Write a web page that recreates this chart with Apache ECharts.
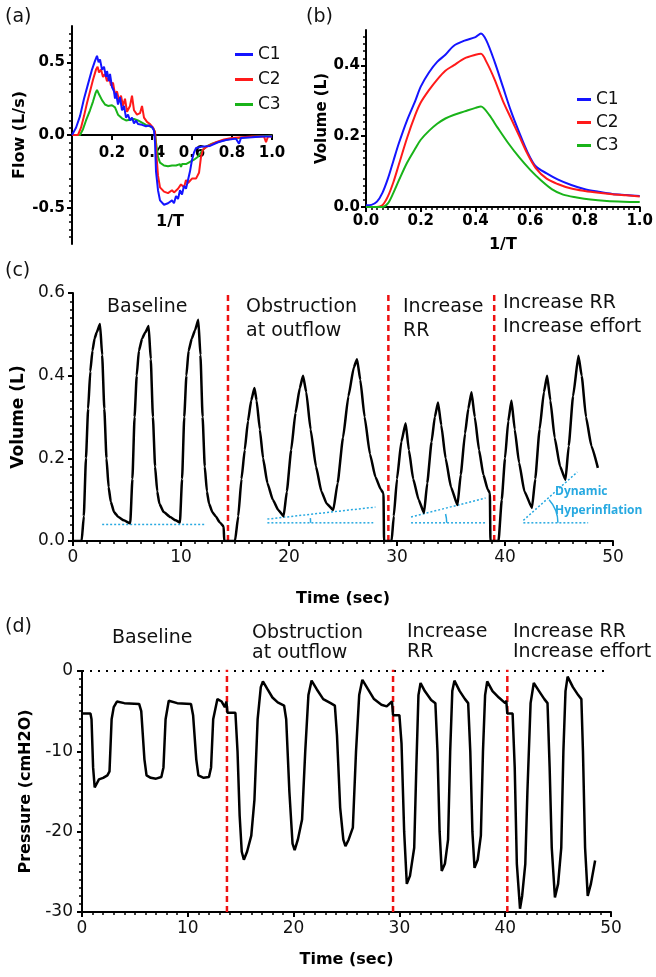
<!DOCTYPE html>
<html><head><meta charset="utf-8">
<script src="https://cdn.jsdelivr.net/npm/echarts@6/dist/echarts.min.js"></script>
<style>html,body{margin:0;padding:0;background:#fff}#c{width:656px;height:977px}</style>
</head><body><div id="c"></div>
<script>
// ---------- DATA ----------
const seriesNames = ['C1', 'C2', 'C3'];
// (a) Flow vs 1/T
const flowC1 = [[0,0],[0.005,0],[0.02,0.05],[0.04,0.13],[0.06,0.25],[0.08,0.35],[0.1,0.45],[0.115,0.51],[0.125,0.545],[0.133,0.5],[0.14,0.52],[0.15,0.45],[0.16,0.47],[0.17,0.4],[0.175,0.44],[0.185,0.37],[0.19,0.42],[0.2,0.33],[0.21,0.3],[0.215,0.25],[0.22,0.29],[0.23,0.21],[0.24,0.26],[0.25,0.17],[0.26,0.2],[0.27,0.12],[0.28,0.14],[0.29,0.1],[0.3,0.12],[0.31,0.08],[0.32,0.1],[0.33,0.075],[0.35,0.07],[0.37,0.06],[0.385,0.065],[0.4,0.055],[0.41,0.03],[0.415,-0.05],[0.42,-0.25],[0.43,-0.38],[0.44,-0.45],[0.46,-0.48],[0.48,-0.47],[0.5,-0.45],[0.51,-0.47],[0.52,-0.42],[0.53,-0.44],[0.54,-0.38],[0.55,-0.41],[0.56,-0.35],[0.57,-0.37],[0.58,-0.31],[0.59,-0.25],[0.6,-0.17],[0.61,-0.12],[0.62,-0.09],[0.65,-0.08],[0.69,-0.075],[0.73,-0.05],[0.77,-0.035],[0.82,-0.025],[0.835,-0.06],[0.845,-0.02],[0.9,-0.015],[0.95,-0.01],[1.0,-0.01]];
const flowC2 = [[0,0],[0.03,0],[0.045,0.05],[0.06,0.13],[0.075,0.22],[0.09,0.3],[0.105,0.38],[0.12,0.45],[0.128,0.47],[0.135,0.43],[0.145,0.45],[0.155,0.4],[0.165,0.42],[0.175,0.37],[0.185,0.4],[0.195,0.34],[0.205,0.36],[0.215,0.28],[0.225,0.3],[0.235,0.24],[0.245,0.27],[0.255,0.2],[0.265,0.25],[0.275,0.16],[0.29,0.2],[0.3,0.27],[0.31,0.17],[0.325,0.14],[0.34,0.15],[0.35,0.2],[0.36,0.12],[0.375,0.09],[0.39,0.075],[0.405,0.05],[0.415,0.02],[0.42,-0.1],[0.43,-0.28],[0.44,-0.36],[0.46,-0.39],[0.48,-0.4],[0.5,-0.38],[0.51,-0.395],[0.53,-0.37],[0.545,-0.34],[0.56,-0.36],[0.57,-0.31],[0.58,-0.33],[0.6,-0.3],[0.62,-0.3],[0.635,-0.26],[0.645,-0.15],[0.655,-0.1],[0.68,-0.075],[0.72,-0.05],[0.76,-0.03],[0.8,-0.02],[0.85,-0.015],[0.9,-0.01],[0.96,-0.01],[0.97,-0.05],[0.98,-0.01],[1.0,-0.01]];
const flowC3 = [[0,0],[0.04,0],[0.055,0.04],[0.07,0.1],[0.09,0.17],[0.105,0.23],[0.118,0.29],[0.125,0.31],[0.135,0.28],[0.15,0.24],[0.165,0.21],[0.18,0.2],[0.2,0.205],[0.215,0.19],[0.23,0.14],[0.25,0.115],[0.27,0.1],[0.29,0.105],[0.31,0.11],[0.33,0.1],[0.35,0.085],[0.37,0.07],[0.39,0.06],[0.405,0.05],[0.415,0.02],[0.42,-0.05],[0.43,-0.15],[0.44,-0.19],[0.46,-0.21],[0.48,-0.215],[0.5,-0.21],[0.52,-0.21],[0.54,-0.2],[0.545,-0.22],[0.55,-0.2],[0.57,-0.2],[0.59,-0.185],[0.61,-0.17],[0.63,-0.15],[0.65,-0.11],[0.67,-0.08],[0.7,-0.06],[0.75,-0.04],[0.8,-0.025],[0.87,-0.015],[0.93,-0.01],[1.0,-0.005]];
// (b) Volume vs 1/T
const volC1 = [[0,0.005],[0.02,0.006],[0.04,0.015],[0.06,0.04],[0.08,0.08],[0.1,0.13],[0.12,0.18],[0.15,0.245],[0.18,0.3],[0.2,0.34],[0.23,0.38],[0.26,0.41],[0.29,0.43],[0.32,0.455],[0.36,0.47],[0.4,0.48],[0.42,0.49],[0.44,0.47],[0.47,0.41],[0.5,0.34],[0.53,0.27],[0.56,0.21],[0.59,0.155],[0.62,0.115],[0.66,0.095],[0.7,0.078],[0.75,0.062],[0.8,0.05],[0.85,0.043],[0.9,0.037],[0.95,0.034],[1.0,0.031]];
const volC2 = [[0,0],[0.04,0],[0.06,0.005],[0.08,0.03],[0.1,0.07],[0.12,0.12],[0.15,0.195],[0.18,0.26],[0.2,0.295],[0.23,0.33],[0.26,0.36],[0.29,0.385],[0.32,0.4],[0.36,0.42],[0.4,0.43],[0.42,0.433],[0.44,0.41],[0.47,0.36],[0.5,0.3],[0.53,0.25],[0.56,0.2],[0.59,0.15],[0.62,0.11],[0.66,0.08],[0.7,0.065],[0.75,0.052],[0.8,0.045],[0.85,0.04],[0.9,0.036],[0.95,0.033],[1.0,0.03]];
const volC3 = [[0,0],[0.06,0],[0.08,0.01],[0.1,0.04],[0.12,0.075],[0.15,0.125],[0.18,0.165],[0.2,0.19],[0.23,0.215],[0.26,0.235],[0.29,0.25],[0.32,0.26],[0.36,0.27],[0.4,0.28],[0.42,0.284],[0.45,0.26],[0.48,0.225],[0.52,0.18],[0.56,0.14],[0.6,0.105],[0.64,0.075],[0.68,0.05],[0.72,0.035],[0.77,0.027],[0.82,0.021],[0.88,0.017],[0.94,0.015],[1.0,0.014]];
// (c) Volume vs time
const volTrace = [[0,0],[0.8,0],[1.0,0.06],[1.2,0.2],[1.4,0.32],[1.6,0.41],[1.8,0.46],[2.0,0.49],[2.2,0.505],[2.5,0.525],[2.7,0.45],[2.9,0.32],[3.1,0.2],[3.3,0.13],[3.5,0.095],[3.8,0.07],[4.2,0.058],[4.7,0.05],[5.3,0.043],
 [5.5,0.15],[5.7,0.3],[5.9,0.4],[6.1,0.46],[6.4,0.49],[6.7,0.505],[7.0,0.52],[7.2,0.44],[7.4,0.3],[7.6,0.18],[7.8,0.12],[8.0,0.09],[8.4,0.07],[9.0,0.058],[9.5,0.05],[9.9,0.045],
 [10.1,0.15],[10.3,0.3],[10.5,0.4],[10.7,0.46],[11.0,0.49],[11.3,0.51],[11.6,0.535],[11.8,0.45],[12.0,0.3],[12.2,0.18],[12.4,0.12],[12.6,0.09],[12.9,0.07],[13.2,0.06],[13.6,0.045],[13.95,0.035],[14.0,0],
 [15.0,0],[15.3,0.06],[15.6,0.15],[15.9,0.22],[16.2,0.29],[16.5,0.34],[16.8,0.37],[17.0,0.34],[17.3,0.27],[17.6,0.2],[18.0,0.14],[18.5,0.1],[19.0,0.075],[19.5,0.06],
 [19.8,0.12],[20.2,0.22],[20.6,0.31],[21.0,0.37],[21.3,0.40],[21.6,0.36],[22.0,0.27],[22.5,0.18],[23.0,0.12],[23.5,0.09],[24.1,0.075],
 [24.5,0.14],[25.0,0.25],[25.5,0.35],[26.0,0.42],[26.3,0.44],[26.6,0.39],[27.0,0.3],[27.5,0.21],[28.0,0.155],[28.5,0.125],[28.75,0.115],[28.8,0],
 [29.5,0],[29.7,0.06],[30.0,0.15],[30.4,0.24],[30.8,0.285],[31.1,0.22],[31.5,0.15],[32.0,0.1],[32.5,0.068],
 [32.8,0.14],[33.2,0.24],[33.5,0.3],[33.8,0.335],[34.1,0.28],[34.5,0.2],[35.0,0.13],[35.6,0.087],
 [35.9,0.16],[36.3,0.26],[36.6,0.32],[36.9,0.36],[37.2,0.3],[37.6,0.22],[38.0,0.16],[38.4,0.125],[38.6,0.116],[38.65,0],
 [39.4,0],[39.7,0.1],[40.0,0.2],[40.3,0.29],[40.6,0.34],[40.9,0.27],[41.3,0.19],[41.8,0.12],[42.5,0.08],
 [42.8,0.15],[43.2,0.27],[43.6,0.36],[43.9,0.40],[44.2,0.34],[44.6,0.25],[45.1,0.18],[45.6,0.148],
 [45.9,0.23],[46.3,0.35],[46.8,0.448],[47.1,0.4],[47.5,0.3],[48.0,0.23],[48.6,0.177]];
// (d) Pressure vs time
const presTrace = [[0,-5.3],[0.8,-5.3],[0.9,-6],[1.05,-12],[1.2,-14.5],[1.4,-14],[1.6,-13.5],[2.0,-13.3],[2.4,-13],[2.6,-12.5],[2.8,-6],[3.0,-4.5],[3.3,-3.8],[4,-4],[5.4,-4.1],[5.6,-5],[5.9,-11],[6.1,-13],[6.5,-13.3],[7.0,-13.4],[7.5,-13.2],[7.7,-12],[7.9,-6],[8.2,-3.7],[9,-4],[10.3,-4.1],[10.5,-5.5],[10.8,-11],[11.0,-13],[11.5,-13.3],[12.0,-13.2],[12.2,-12],[12.4,-6],[12.8,-3.5],[13.2,-3.8],[13.5,-4.5],[13.65,-3.8],[13.75,-5.2],[14.5,-5.2],[14.7,-10],[14.9,-18],[15.1,-22.5],[15.3,-23.5],[15.6,-22.5],[16.0,-20.5],[16.3,-16],[16.6,-6],[16.9,-2],[17.1,-1.3],[17.5,-2.2],[18.0,-3.3],[18.5,-3.9],[19.1,-4.3],[19.3,-6],[19.6,-15],[19.9,-21.5],[20.1,-22.3],[20.4,-21],[20.8,-18.5],[21.1,-10],[21.4,-3],[21.7,-1.2],[22.2,-2.3],[22.8,-3.5],[23.5,-4],[23.9,-4.3],[24.1,-8],[24.4,-17],[24.7,-21],[24.9,-21.8],[25.2,-21],[25.6,-19.5],[25.9,-10],[26.2,-3],[26.5,-1.1],[27,-2.2],[27.6,-3.5],[28.3,-4.2],[28.8,-4.4],[29.3,-3.8],[29.4,-5.5],[30.0,-5.5],[30.2,-9],[30.45,-20],[30.7,-26.5],[31.0,-25.5],[31.4,-22],[31.6,-12],[31.8,-3],[32.0,-1.5],[32.4,-2.5],[33.0,-3.6],[33.4,-4],[33.6,-10],[33.8,-20],[34.0,-24.9],[34.3,-24],[34.6,-21],[34.8,-10],[35.0,-2.5],[35.2,-1.2],[35.7,-2.5],[36.2,-3.5],[36.5,-4],[36.7,-10],[36.9,-20],[37.1,-24.5],[37.4,-23.5],[37.7,-20.5],[37.9,-10],[38.1,-3],[38.3,-1.3],[38.8,-2.5],[39.4,-3.3],[40.0,-4],[40.1,-3.7],[40.2,-5.3],[40.7,-5.3],[40.9,-12],[41.1,-24],[41.4,-29.6],[41.6,-28],[41.9,-24],[42.1,-15],[42.4,-4],[42.7,-1.5],[43.2,-2.5],[43.7,-3.5],[44.0,-4],[44.2,-12],[44.4,-22],[44.7,-28.2],[45.0,-26.5],[45.3,-22],[45.5,-10],[45.7,-2.5],[45.9,-0.7],[46.4,-2],[46.9,-3],[47.2,-3.5],[47.35,-10],[47.55,-22],[47.8,-28],[48.1,-26.5],[48.5,-23.6]];
// phase boundaries
const cBreaks = [14.35, 29.2, 39.0];
const dBreaks = [13.7, 29.4, 40.2];
const phaseLabels = [['Baseline'], ['Obstruction', 'at outflow'], ['Increase', 'RR'], ['Increase RR', 'Increase effort']];
// annotation lines in panel (c)
const annoLines = [
  [[2.7,0.04],[12.2,0.04]],
  [[18,0.044],[27.8,0.044]], [[18,0.053],[28,0.082]],
  [[31.3,0.044],[38.2,0.044]], [[31.3,0.058],[38.2,0.104]],
  [[41.7,0.044],[47.7,0.044]], [[41.7,0.05],[46.7,0.167]]
];
const annoArcs = [[2, 22.0], [4, 34.6], [6, 44.9]]; // [sloped line index, arc time]
const zeroRef = [[0,0],[49.6,0]];

// ---------- STYLE ----------
const FONT = 'DejaVu Sans';
const BLUE = '#1414ff', RED = '#ff1a1a', GREEN = '#19b319', CYAN = '#27a9e1';
const colors = [BLUE, RED, GREEN];

function axis(o) {
  const base = {
    type: 'value',
    axisLine: { show: true, onZero: false, lineStyle: { color: '#000', width: 2 } },
    axisTick: { show: true, length: 5, lineStyle: { color: '#000', width: 2 } },
    minorTick: { show: true, length: 3, splitNumber: 5, lineStyle: { color: '#000', width: 1.5 } },
    splitLine: { show: false },
    axisLabel: { color: '#111', fontFamily: FONT, fontSize: 17, margin: 8 },
    nameTextStyle: { color: '#000', fontFamily: FONT, fontWeight: 'bold', fontSize: 16 },
    nameLocation: 'middle'
  };
  for (const k in o) {
    if (base[k] && typeof base[k] === 'object' && !Array.isArray(base[k]) && typeof o[k] === 'object') {
      base[k] = Object.assign({}, base[k], o[k]);
    } else base[k] = o[k];
  }
  return base;
}
const boldLbl = { color: '#000', fontFamily: FONT, fontWeight: 'bold', fontSize: 15 };

const grids = [
  { left: 72, top: 26, width: 200, height: 218 },
  { left: 366, top: 30, width: 277, height: 177 },
  { left: 73, top: 293, width: 540, height: 248 },
  { left: 82, top: 671, width: 529, height: 241 }
];
// panel (a): x axis drawn through y = 0 (half-way down the symmetric y range)
const aZeroOffset = -grids[0].height / 2;

const xAxes = [
  axis({ gridIndex: 0, min: 0, max: 1, interval: 0.2, offset: aZeroOffset,
    minorTick: { show: false },
    axisLabel: Object.assign({}, boldLbl, { margin: 11, formatter: v => v === 0 ? '' : v.toFixed(1) }) }),
  axis({ gridIndex: 1, min: 0, max: 1, interval: 0.2, name: '1/T', nameGap: 30,
    minorTick: { splitNumber: 10, length: 3 },
    axisLabel: Object.assign({}, boldLbl, { margin: 7, formatter: v => v.toFixed(1) }) }),
  axis({ gridIndex: 2, min: 0, max: 50, interval: 10, name: 'Time (sec)', nameGap: 50,
    minorTick: { splitNumber: 8 } }),
  axis({ gridIndex: 3, min: 0, max: 50, interval: 10, name: 'Time (sec)', nameGap: 40,
    minorTick: { splitNumber: 10 } })
];
const yAxes = [
  axis({ gridIndex: 0, min: -0.75, max: 0.75, interval: 0.25, name: 'Flow (L/s)', nameGap: 44,
    axisTick: { customValues: [-0.5, 0, 0.5] },
    axisLabel: Object.assign({}, boldLbl, { margin: 7, customValues: [-0.5, 0, 0.5],
      formatter: v => (Math.abs(v) < 1e-9 ? '0.0' : (Math.abs(Math.abs(v) - 0.5) < 1e-9 ? v.toFixed(1) : '')) }) }),
  axis({ gridIndex: 1, min: 0, max: 0.5, interval: 0.1, name: 'Volume (L)', nameGap: 35,
    minorTick: { splitNumber: 5 },
    axisTick: { customValues: [0, 0.2, 0.4] },
    axisLabel: Object.assign({}, boldLbl, { margin: 6, customValues: [0, 0.2, 0.4],
      formatter: v => (Math.abs(v * 5 - Math.round(v * 5)) < 1e-6 && v < 0.45 ? v.toFixed(1) : '') }),
    nameTextStyle: { fontSize: 15 } }),
  axis({ gridIndex: 2, min: 0, max: 0.6, interval: 0.2, name: 'Volume (L)', nameGap: 45,
    minorTick: { splitNumber: 10 },
    axisLabel: { formatter: v => v.toFixed(1) }, nameTextStyle: { fontSize: 17 } }),
  axis({ gridIndex: 3, min: -30, max: 0, interval: 10, name: 'Pressure (cmH2O)', nameGap: 45,
    minorTick: { splitNumber: 10 }, axisLabel: { margin: 9 } })
];

const series = [];
[flowC1, flowC2, flowC3].forEach((d, i) => series.push({
  name: seriesNames[i], type: 'line', xAxisIndex: 0, yAxisIndex: 0, data: d, symbol: 'none',
  color: colors[i], lineStyle: { width: 2 }, z: 5 - i }));
[volC1, volC2, volC3].forEach((d, i) => series.push({
  name: seriesNames[i], type: 'line', xAxisIndex: 1, yAxisIndex: 1, data: d, symbol: 'none',
  smooth: 0.3, color: colors[i], lineStyle: { width: 2 } }));
series.push({ type: 'line', xAxisIndex: 2, yAxisIndex: 2, data: volTrace, symbol: 'none',
  smooth: 0.15, smoothMonotone: 'x', lineStyle: { color: '#000', width: 2.5 }, z: 4 });
series.push({ type: 'line', xAxisIndex: 3, yAxisIndex: 3, data: presTrace, symbol: 'none',
  lineStyle: { color: '#000', width: 2.5 }, z: 4 });
cBreaks.forEach(t => series.push({ type: 'line', xAxisIndex: 2, yAxisIndex: 2, symbol: 'none',
  data: [[t, 0], [t, 0.6]], lineStyle: { color: '#ee1111', width: 2.5, type: [6, 4] }, z: 3 }));
dBreaks.forEach(t => series.push({ type: 'line', xAxisIndex: 3, yAxisIndex: 3, symbol: 'none',
  data: [[t, -30], [t, 0.4]], lineStyle: { color: '#ee1111', width: 2.5, type: [6, 4] }, z: 3 }));
series.push({ type: 'line', xAxisIndex: 3, yAxisIndex: 3, symbol: 'none', data: zeroRef,
  lineStyle: { color: '#000', width: 2, type: [2, 6] }, z: 2 });
annoLines.forEach(l => series.push({ type: 'line', xAxisIndex: 2, yAxisIndex: 2, symbol: 'none',
  data: l, lineStyle: { color: CYAN, width: 1.5, type: [2, 2] }, z: 3 }));
series.push({ type: 'custom', xAxisIndex: 2, yAxisIndex: 2, z: 3,
  data: annoArcs.map(a => [annoLines[a[0]][0][0], annoLines[a[0] - 1][0][1]]),
  renderItem: function (params, api) {
    const a = annoArcs[params.dataIndex];
    const L = annoLines[a[0]];
    const base = annoLines[a[0] - 1][0][1];
    const c = api.coord([L[0][0], base]);
    const p1 = api.coord(L[0]), p2 = api.coord(L[1]);
    const ang = Math.atan2(p2[1] - p1[1], p2[0] - p1[0]);
    const r = api.coord([a[1], base])[0] - c[0];
    return { type: 'arc', shape: { cx: c[0], cy: c[1], r: r, startAngle: ang, endAngle: 0, clockwise: true },
      style: { stroke: CYAN, fill: null, lineWidth: 1.5 } };
  } });

function txt(x, y, s, extra) {
  return Object.assign({ type: 'text', x: x, y: y, style: Object.assign({ text: s, fill: '#111',
    fontFamily: FONT, fontSize: 19, verticalAlign: 'middle', align: 'left' }, extra || {}) });
}
const graphics = [
  txt(5, 17, '(a)', {}), txt(306, 17, '(b)', {}), txt(5, 271, '(c)', {}), txt(5, 627, '(d)', {}),
  txt(170, 222, '1/T', { fontWeight: 'bold', fontSize: 16, align: 'center', fill: '#000' }),
  txt(107, 307, phaseLabels[0][0]),
  txt(246, 307, phaseLabels[1][0]), txt(246, 331, phaseLabels[1][1]),
  txt(403, 307, phaseLabels[2][0]), txt(403, 331, phaseLabels[2][1]),
  txt(503, 303, phaseLabels[3][0]), txt(503, 327, phaseLabels[3][1]),
  txt(112, 638, phaseLabels[0][0]),
  txt(252, 633, phaseLabels[1][0]), txt(252, 653, phaseLabels[1][1]),
  txt(407, 632, phaseLabels[2][0]), txt(407, 652, phaseLabels[2][1]),
  txt(513, 632, phaseLabels[3][0]), txt(513, 652, phaseLabels[3][1]),
  txt(555, 492, 'Dynamic', { fill: CYAN, fontFamily: 'Open Sans', fontWeight: 'bold', fontSize: 12 }),
  txt(555, 511, 'Hyperinflation', { fill: CYAN, fontFamily: 'Open Sans', fontWeight: 'bold', fontSize: 12 })
];

const legendBase = { orient: 'vertical', icon: 'rect', itemHeight: 3, selectedMode: false,
  textStyle: { fontFamily: FONT, fontSize: 17, color: '#111' }, padding: 0, data: seriesNames };

const chart = echarts.init(document.getElementById('c'), null, { renderer: 'canvas' });
chart.setOption({
  animation: false,
  backgroundColor: '#fff',
  grid: grids,
  xAxis: xAxes,
  yAxis: yAxes,
  legend: [
    Object.assign({}, legendBase, { left: 235, top: 46, itemWidth: 18, itemGap: 8 }),
    Object.assign({}, legendBase, { left: 577, top: 91, itemWidth: 14, itemGap: 6 })
  ],
  series: series,
  graphic: graphics
});
</script></body></html>
